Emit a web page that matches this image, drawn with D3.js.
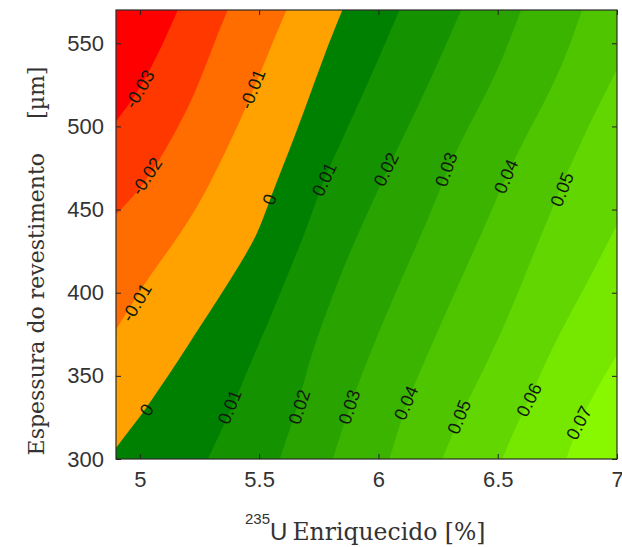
<!DOCTYPE html>
<html lang="pt">
<head>
<meta charset="UTF-8" />
<title>Contorno - espessura vs enriquecimento</title>
<script src="https://cdn.jsdelivr.net/npm/d3@7"></script>
<style>
    body { margin: 0; background: #fff; }
    .tick text { font-family: "Liberation Sans", Arial, sans-serif; font-size: 22px; fill: #333; }
    .tick line { stroke: #222; }
    .clabel { font-family: "Liberation Sans", Arial, sans-serif; font-size: 18px; fill: #101a10; }
    .serif { font-family: "DejaVu Serif", serif; fill: #333; }
    .sans { font-family: "Liberation Sans", Arial, sans-serif; fill: #333; }
</style>
</head>
<body>
<svg width="622" height="547"></svg>
<script>
// eixos
const xDomain = [4.9, 7];
const yDomain = [300, 570];
const xTicks = [5, 5.5, 6, 6.5, 7];
const yTicks = [300, 350, 400, 450, 500, 550];

// niveis e cores
const levels = [-0.03, -0.02, -0.01, 0, 0.01, 0.02, 0.03, 0.04, 0.05, 0.06, 0.07];
const fillColors = ['#ff0000', '#ff3800', '#ff6c00', '#ffa200',
    '#008000', '#149200', '#28a300', '#3bb400', '#4fc500', '#62d600', '#76e800', '#88f800'];

// linhas de contorno: [enriquecimento %, espessura um]
const cM03 = [[5.159, 570], [5.096, 549.4], [5.033, 531.3], [4.971, 516.3], [4.9, 503]];
const cM02 = [[5.368, 570], [5.301, 546.4], [5.230, 519.3], [5.155, 498.2], [5.084, 480.1], [5.0, 462.0], [4.9, 447]];
const cM01 = [[5.615, 570], [5.536, 543.4], [5.452, 513.3], [5.360, 485.0], [5.264, 457.2], [5.176, 436.7],
    [5.084, 418.6], [4.992, 399.4], [4.9, 377.7]];
const c00 = [[5.849, 570], [5.774, 543.4], [5.699, 513.3], [5.628, 486.1], [5.552, 459.0], [5.494, 434.9],
    [5.418, 416.9], [5.335, 397.6], [5.243, 377.7], [5.155, 357.8], [5.084, 342.8], [5.013, 327.7],
    [4.950, 316.3], [4.9, 306.6]];
const c01 = [[6.088, 570], [5.971, 530.7], [5.858, 495.2], [5.766, 466.9], [5.699, 438.0], [5.619, 410.8],
    [5.544, 383.7], [5.460, 356.6], [5.389, 331.3], [5.285, 300]];
const c02 = [[6.347, 570], [6.226, 530.7], [6.130, 501.2], [6.033, 472.9], [5.941, 444.0], [5.849, 413.9],
    [5.770, 383.7], [5.711, 359.6], [5.669, 335.5], [5.628, 317.5], [5.586, 300]];
const c03 = [[6.598, 570], [6.494, 530.7], [6.381, 501.2], [6.285, 472.9], [6.243, 456.0], [6.151, 425.9],
    [6.059, 395.8], [5.962, 362.7], [5.879, 331.3], [5.808, 300]];
const c04 = [[6.854, 570], [6.757, 530.7], [6.632, 498.2], [6.536, 469.9], [6.494, 456.0], [6.393, 422.9],
    [6.297, 392.8], [6.205, 362.7], [6.117, 333.7], [6.046, 300]];
const c05 = [[7, 534.3], [6.883, 501.2], [6.778, 468.1], [6.736, 453.0], [6.640, 419.9], [6.540, 383.7],
    [6.431, 350.6], [6.339, 325.3], [6.268, 300]];
const c06 = [[7, 441.0], [6.883, 407.8], [6.778, 380.7], [6.695, 356.6], [6.632, 335.5], [6.569, 317.5], [6.519, 300]];
const c07 = [[7, 362.7], [6.912, 341.6], [6.841, 321.7], [6.787, 300]];
const contourLines = [cM03, cM02, cM01, c00, c01, c02, c03, c04, c05, c06, c07];

// rotulos: [nivel, x, y]
const labelPoints = [
    [-0.03, 5.0, 522.3], [-0.02, 5.029, 469.9], [-0.01, 5.473, 522.3], [-0.01, 4.987, 394.0],
    [0, 5.544, 456.0], [0, 5.029, 329.5],
    [0.01, 5.774, 468.1], [0.01, 5.377, 331.3], [0.02, 6.033, 474.1], [0.02, 5.669, 331.3],
    [0.03, 6.285, 474.1], [0.03, 5.879, 331.3], [0.04, 6.536, 469.9], [0.04, 6.117, 333.7],
    [0.05, 6.770, 462.0], [0.05, 6.339, 325.3], [0.06, 6.632, 335.5], [0.07, 6.841, 321.7]
];

const svg = d3.select('svg');
const plot = { left: 116, right: 617, top: 10, bottom: 459 };
const W = plot.right - plot.left, H = plot.bottom - plot.top;

const x = d3.scaleLinear().domain(xDomain).range([plot.left, plot.right]);
const y = d3.scaleLinear().domain(yDomain).range([plot.bottom, plot.top]);

svg.append('defs').append('clipPath').attr('id', 'clip')
    .append('rect').attr('x', plot.left).attr('y', plot.top).attr('width', W).attr('height', H);

const g = svg.append('g').attr('clip-path', 'url(#clip)');

// fundo = nivel mais baixo
g.append('rect')
    .attr('x', plot.left).attr('y', plot.top).attr('width', W).attr('height', H)
    .attr('fill', fillColors[0]);

// posicao no perimetro (sentido: esquerda desce, base direita, direita sobe, topo esquerda)
function perim(p) {
    const eps = 0.6;
    if (Math.abs(p[0] - plot.left) < eps) return p[1] - plot.top;
    if (Math.abs(p[1] - plot.bottom) < eps) return H + (p[0] - plot.left);
    if (Math.abs(p[0] - plot.right) < eps) return H + W + (plot.bottom - p[1]);
    return 2 * H + W + (plot.right - p[0]);
}
const corners = [
    { s: H, p: [plot.left, plot.bottom] },
    { s: H + W, p: [plot.right, plot.bottom] },
    { s: 2 * H + W, p: [plot.right, plot.top] },
    { s: 2 * H + 2 * W, p: [plot.left, plot.top] }
];
const total = 2 * H + 2 * W;

const line = d3.line().curve(d3.curveBasis);

contourLines.forEach((ln, i) => {
    const pts = ln.map((d) => [x(d[0]), y(d[1])]);
    const sEnd = perim(pts[pts.length - 1]);
    let sStart = perim(pts[0]);
    if (sStart <= sEnd) sStart += total;
    const extra = [];
    [0, total].forEach((off) => {
        corners.forEach((c) => {
            const s = c.s + off;
            if (s > sEnd && s < sStart) extra.push({ s, p: c.p });
        });
    });
    extra.sort((a, b) => a.s - b.s);
    const d = line(pts) + extra.map((c) => `L${c.p[0]},${c.p[1]}`).join('') + 'Z';
    g.append('path').attr('d', d).attr('fill', fillColors[i + 1]);
});

// rotulos das curvas
function labelAngle(level, px, py) {
    const ln = contourLines[levels.indexOf(level)].map((d) => [x(d[0]), y(d[1])]);
    let best = null, bestD = Infinity;
    for (let k = 0; k < ln.length - 1; k++) {
        const mx = (ln[k][0] + ln[k + 1][0]) / 2, my = (ln[k][1] + ln[k + 1][1]) / 2;
        const dd = (mx - px) ** 2 + (my - py) ** 2;
        if (dd < bestD) { bestD = dd; best = k; }
    }
    const a = ln[best], b = ln[best + 1];
    let ang = Math.atan2(b[1] - a[1], b[0] - a[0]) * 180 / Math.PI;
    if (ang > 90) ang -= 180;
    if (ang < -90) ang += 180;
    return ang;
}

svg.append('g').selectAll('text').data(labelPoints).enter().append('text')
    .attr('class', 'clabel')
    .attr('text-anchor', 'middle')
    .attr('dominant-baseline', 'central')
    .attr('transform', (d) => {
        const px = x(d[1]), py = y(d[2]);
        return `translate(${px},${py}) rotate(${labelAngle(d[0], px, py)})`;
    })
    .text((d) => String(d[0]));

// eixos
const fmtX = (d) => String(d);
svg.append('g').attr('transform', `translate(0,${plot.bottom})`)
    .call(d3.axisBottom(x).tickValues(xTicks).tickFormat(fmtX).tickSizeInner(-5).tickSizeOuter(0).tickPadding(12))
    .call((a) => a.select('.domain').remove());
svg.append('g').attr('transform', `translate(${plot.left},0)`)
    .call(d3.axisLeft(y).tickValues(yTicks).tickSizeInner(-5).tickSizeOuter(0).tickPadding(12))
    .call((a) => a.select('.domain').remove());
svg.append('g').attr('transform', `translate(0,${plot.top})`)
    .call(d3.axisTop(x).tickValues(xTicks).tickFormat('').tickSizeInner(-5).tickSizeOuter(0))
    .call((a) => a.select('.domain').remove());
svg.append('g').attr('transform', `translate(${plot.right},0)`)
    .call(d3.axisRight(y).tickValues(yTicks).tickFormat('').tickSizeInner(-5).tickSizeOuter(0))
    .call((a) => a.select('.domain').remove());
svg.selectAll('.tick text').attr('fill', '#333');

svg.append('rect')
    .attr('x', plot.left).attr('y', plot.top).attr('width', W).attr('height', H)
    .attr('fill', 'none').attr('stroke', '#2a2a2a').attr('stroke-width', 1.2);

// titulo do eixo x
const xt = svg.append('text').attr('x', 245).attr('y', 540);
xt.append('tspan').attr('class', 'sans').attr('font-size', 15).attr('dy', -16).text('235');
xt.append('tspan').attr('class', 'sans').attr('font-size', 24).attr('dy', 16).text('U');
xt.append('tspan').attr('class', 'serif').attr('font-size', 23.5).attr('dx', 5).text('Enriquecido [%]');

// titulo do eixo y
const yt = svg.append('text')
    .attr('class', 'serif')
    .attr('font-size', 22)
    .attr('transform', 'translate(44,261) rotate(-90)')
    .attr('text-anchor', 'middle');
yt.append('tspan').text('Espessura do revestimento');
yt.append('tspan').attr('dx', 34).text('[\u00b5m]');
</script>
</body>
</html>
